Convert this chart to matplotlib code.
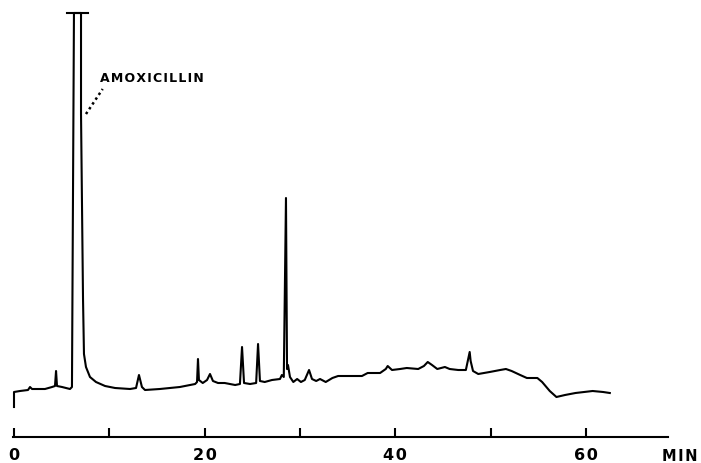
import matplotlib.pyplot as plt
import numpy as np

# chromatogram trace: time (min), detector signal (arb. units)
t = [0.0, 0.0, 0.63, 1.47, 1.68, 1.89, 3.25, 3.99, 4.30, 4.41, 4.51, 5.04, 5.87, 6.08,
     6.29, 7.03, 7.03, 7.24, 7.34, 7.55, 7.97, 8.60, 9.55, 10.6, 12.17, 12.8, 13.11, 13.42,
     13.74, 15.3, 17.4, 19.0, 19.2, 19.3, 19.4, 19.8, 20.25, 20.56, 20.87, 21.4, 22.1,
     23.2, 23.7, 23.92, 24.13, 24.76, 25.4, 25.6, 25.8, 26.3, 27.06, 27.9, 28.1, 28.3,
     28.53, 28.64, 28.74, 28.95, 29.3, 29.7, 30.1, 30.5, 30.95, 31.26, 31.7, 32.1, 32.7,
     33.4, 34.0, 36.5, 37.1, 38.4, 39.0, 39.2, 39.65, 40.5, 41.2, 42.4, 43.0, 43.4, 43.85,
     44.4, 44.8, 45.2, 45.7, 46.6, 47.4, 47.6, 47.8, 47.9, 48.15, 48.7, 49.9, 51.0, 51.6,
     52.2, 53.1, 53.8, 54.9, 55.4, 56.2, 56.9, 57.8, 58.9, 59.8, 60.7, 61.8, 62.5]
signal = [30, 45, 46, 47, 50, 48, 48, 50, 51, 66, 51, 50, 48, 50,
          424, 424, 323, 138, 83, 70, 60, 55, 51, 49, 48, 49, 62, 50,
          47, 48, 50, 53, 55, 78, 57, 54, 57, 63, 56, 54, 54,
          52, 53, 90, 54, 53, 54, 93, 56, 55, 57, 58, 62, 60,
          239, 68, 72, 60, 55, 58, 55, 57, 67, 58, 56, 58, 55,
          59, 61, 61, 64, 64, 68, 71, 67, 68, 69, 68, 71, 75, 72,
          68, 69, 70, 68, 67, 67, 76, 85, 76, 66, 63, 65, 67, 68,
          66, 62, 59, 59, 55, 46, 40, 42, 44, 45, 46, 45, 44]

major_ticks = [0, 20, 40, 60]
minor_ticks = [10, 30, 50]
peak_name = "AMOXICILLIN"
peak_time = 6.66      # off-scale main peak
peak_top = 424        # recorder limit

def spaced(s):
    # wide letter spacing like the original lettering
    return "\u200a".join(s)

fig = plt.figure(figsize=(7.01, 4.64), dpi=100)
ax = fig.add_axes([0, 0, 1, 1])
ax.set_xlim(-14 / 9.533, 687 / 9.533)
ax.set_ylim(-26, 438)

ax.plot(t, signal, color="black", lw=1.5, solid_joinstyle="round")
# pen limit bar at the top of the off-scale peak
ax.plot([peak_time - 1.05, peak_time + 1.1], [peak_top, peak_top], color="black", lw=1.5)

# label with dotted leader
ax.plot([7.55, 9.3], [323, 348], color="black", lw=1.8, ls=(0, (1, 1.3)))
ax.text(9.0, 360, spaced(peak_name), fontsize=9, fontweight="bold", family="DejaVu Sans",
        va="center", ha="left")

for s in ["top", "left", "right"]:
    ax.spines[s].set_visible(False)
ax.spines["bottom"].set_position(("data", 0))
ax.spines["bottom"].set_bounds(-0.1, 68.6)
ax.spines["bottom"].set_linewidth(1.5)
ax.set_xticks(major_ticks)
ax.set_xticks(minor_ticks, minor=True)
ax.set_xticklabels([spaced(str(v)) for v in major_ticks], fontsize=11.5, fontweight="bold",
                   family="DejaVu Sans")
ax.tick_params(axis="x", which="both", direction="in", length=6.5, width=1.5, pad=7.5)
ax.set_yticks([])
ax.text(68.0, -18.5, spaced("MIN"), fontsize=10.5, fontweight="bold", family="DejaVu Sans",
        va="center", ha="left")

fig.savefig("out.png", dpi=100)
